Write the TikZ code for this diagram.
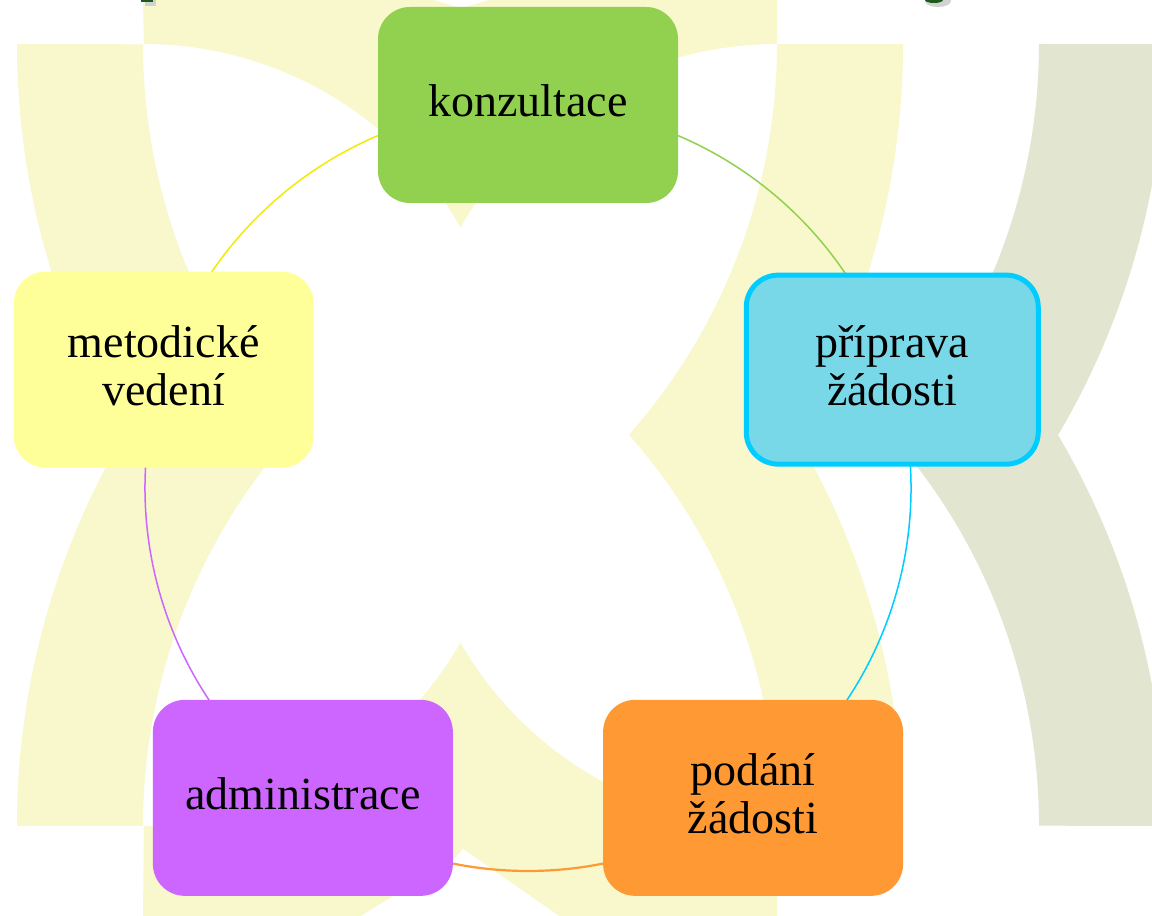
\documentclass[tikz,border=0pt]{standalone}
\usepackage{fontspec}
\setmainfont{Liberation Serif}
\usetikzlibrary{calc}
\pgfdeclarelayer{bg}
\pgfdeclarelayer{mid}
\pgfsetlayers{bg,mid,main}
\definecolor{bgyel}{HTML}{F8F8CC}
\definecolor{bggrn}{HTML}{E2E5D0}
\definecolor{cgreen}{HTML}{92D050}
\definecolor{cblue}{HTML}{79D8E8}
\definecolor{ccyan}{HTML}{00CCFF}
\definecolor{cyel}{HTML}{FFFF99}
\definecolor{cpurp}{HTML}{CC66FF}
\definecolor{corng}{HTML}{FF9933}
\definecolor{arcyel}{HTML}{F2EC00}
\definecolor{dkgreen}{HTML}{1E5A1E}
\begin{document}
\begin{tikzpicture}[x=1pt,y=1pt,
  box/.style={rectangle, rounded corners=32pt, minimum width=300pt, minimum height=196pt,
    inner sep=0pt, align=center, font=\fontsize{46}{48}\selectfont, text depth=9pt},
  link/.style={line width=1.5pt}]
\useasboundingbox (0,0) rectangle (1152,916);
\coordinate (C) at (528,428);
% nodes
\node[box, fill=cgreen] (k) at ($(C)+(90:383)$) {konzultace};
\node[box, fill=cblue, draw=ccyan, line width=5pt, minimum width=292pt, minimum height=189pt] (p) at ($(C)+(18:383)$) {příprava\\žádosti};
\node[box, fill=corng] (o) at ($(C)+(-54:383)$) {podání\\žádosti};
\node[box, fill=cpurp] (a) at ($(C)+(-126:383)$) {administrace};
\node[box, fill=cyel] (m) at ($(C)+(162:383)$) {metodické\\vedení};
% connectors
\begin{pgfonlayer}{mid}
\draw[link, cgreen] (k.center) arc[start angle=90, end angle=18, radius=383];
\draw[link, ccyan] (p.center) arc[start angle=18, end angle=-54, radius=383];
\draw[link, corng, line width=2.2pt] (o.center) arc[start angle=-54, end angle=-126, radius=383];
\draw[link, cpurp] (a.center) arc[start angle=-126, end angle=-198, radius=383];
\draw[link, arcyel] (m.center) arc[start angle=162, end angle=90, radius=383];
\end{pgfonlayer}
% background watermark
\begin{pgfonlayer}{bg}
\fill[white] (0,0) rectangle (1152,916);
\begin{scope}[yshift=916pt, yscale=-1]
\clip (0,0) rectangle (1152,916);
\fill[bgyel] (143,0) -- (777,0) -- (777,44) arc[start angle=-90, end angle=-150.14, radius=365]
  arc[start angle=-29.86, end angle=-90, radius=365] -- cycle;
\fill[bgyel] (143,916) -- (777,916) -- (777,826) arc[start angle=90, end angle=150.14, radius=365]
  arc[start angle=29.86, end angle=90, radius=365] -- cycle;
\fill[bgyel] (17,44) arc[start angle=180, end angle=149.4, radius=768]
  arc[start angle=210.6, end angle=180, radius=768] -- (143,826)
  arc[start angle=180, end angle=221.49, radius=590]
  arc[start angle=138.51, end angle=180, radius=590] -- cycle;
\fill[bgyel] (777,44) arc[start angle=0, end angle=41.49, radius=590]
  arc[start angle=-41.49, end angle=0, radius=590] -- (903,826)
  arc[start angle=0, end angle=-30.6, radius=768]
  arc[start angle=30.6, end angle=0, radius=768] -- cycle;
\fill[bggrn] (1039,44) arc[start angle=0, end angle=41.49, radius=590]
  arc[start angle=-41.49, end angle=0, radius=590] -- (1165,826)
  arc[start angle=0, end angle=-30.6, radius=768]
  arc[start angle=30.6, end angle=0, radius=768] -- cycle;
\fill[white] (434,0) -- (461,8) -- (489,0) -- cycle;
\fill[white] (361,916) -- (455,858) -- (463,849) -- (559,916) -- cycle;
\fill[gray!35] (145,0) rectangle (156,6);
\fill[dkgreen] (141,0) rectangle (153,2.5);
\fill[gray!35] (938,1) ellipse [x radius=13, y radius=6];
\fill[dkgreen] (934,0) ellipse [x radius=9, y radius=3];
\end{scope}
\end{pgfonlayer}
\end{tikzpicture}
\end{document}
